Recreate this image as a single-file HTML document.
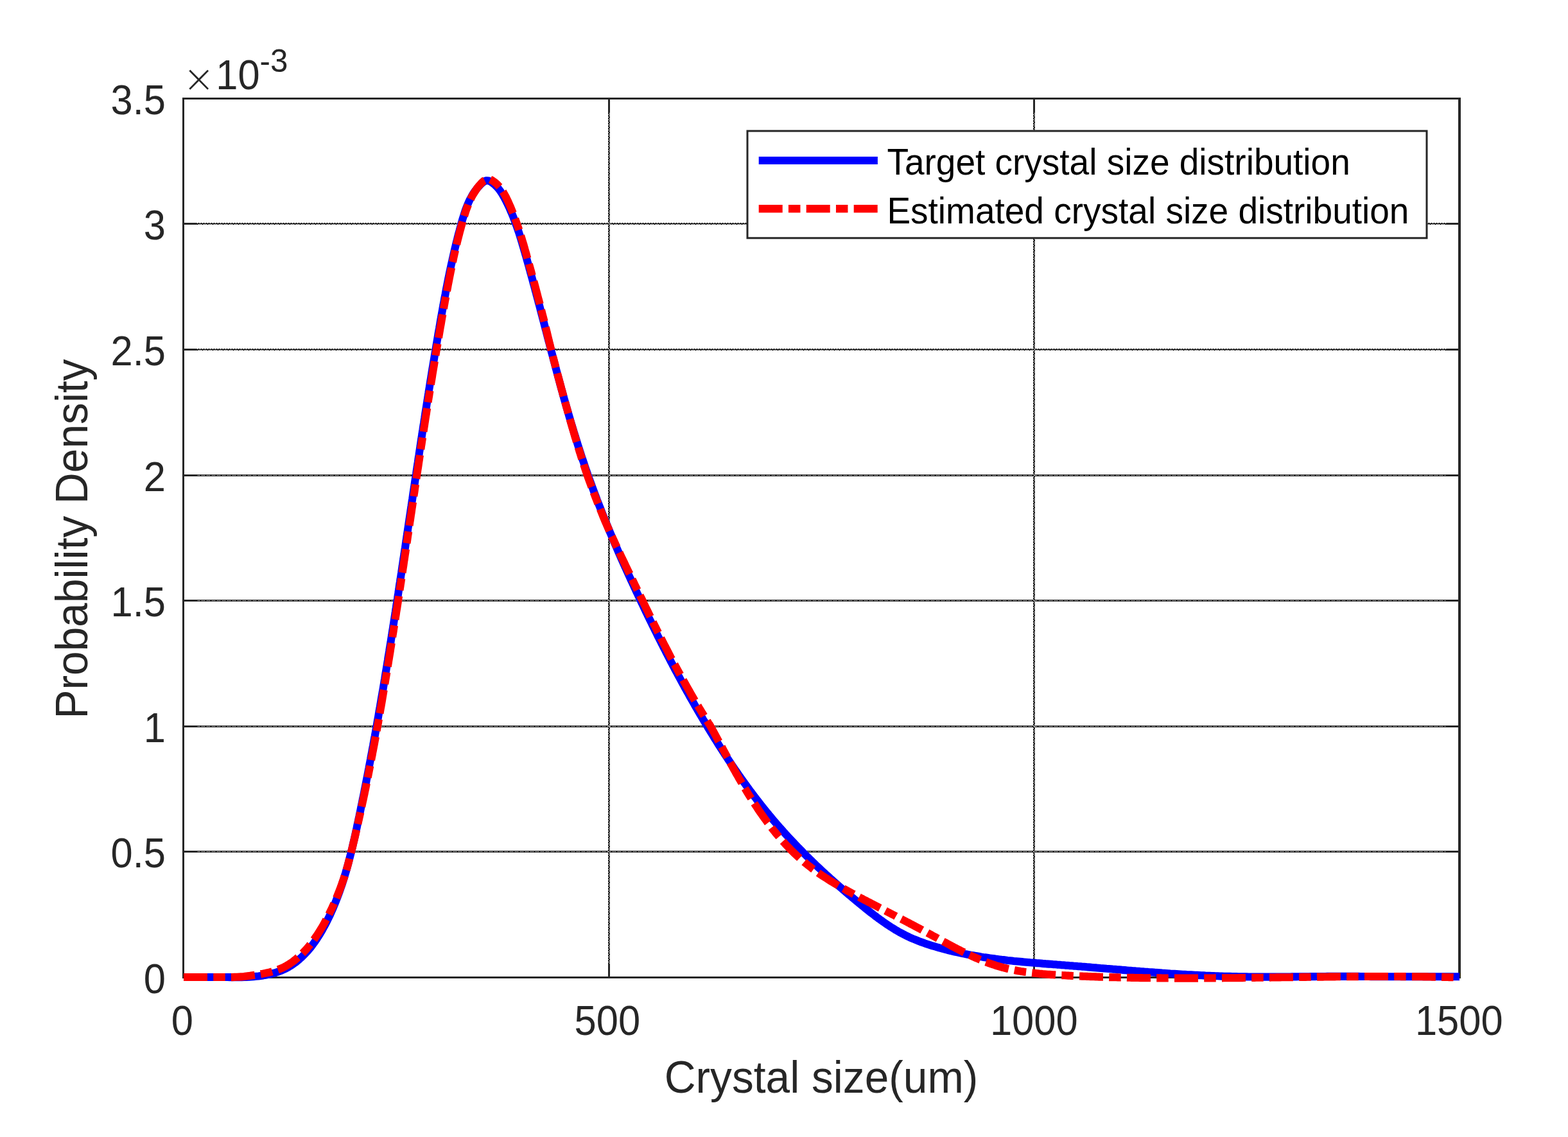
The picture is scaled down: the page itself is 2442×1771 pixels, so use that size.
<!DOCTYPE html>
<html><head><meta charset="utf-8"><title>Crystal size distribution</title>
<style>
html,body{margin:0;padding:0;background:#fff;}
svg{display:block}
text{font-family:"Liberation Sans",sans-serif;fill:#262626;}
.tk{font-size:62.5px}
.lb{font-size:68.75px}
.lg{font-size:56.25px;fill:#000}
</style></head><body>
<svg width="2442" height="1771" viewBox="0 0 2442 1771">
<rect x="0" y="0" width="2442" height="1771" fill="#fff"/>
<g stroke="#262626" stroke-width="3" fill="none">
<line x1="285.5" y1="1326.5" x2="2273.0" y2="1326.5"/>
<line x1="285.5" y1="1131.5" x2="2273.0" y2="1131.5"/>
<line x1="285.5" y1="935.5" x2="2273.0" y2="935.5"/>
<line x1="285.5" y1="740.5" x2="2273.0" y2="740.5"/>
<line x1="285.5" y1="544.5" x2="2273.0" y2="544.5"/>
<line x1="285.5" y1="348.5" x2="2273.0" y2="348.5"/>
<line x1="948.5" y1="153.5" x2="948.5" y2="1522.5"/>
<line x1="1610.5" y1="153.5" x2="1610.5" y2="1522.5"/>
</g>
<g stroke="#fff" stroke-width="1" fill="none">
<line x1="308" y1="1326.5" x2="2252" y2="1326.5" stroke-dasharray="1 1 1 3 1 1"/>
<line x1="308" y1="1131.5" x2="2252" y2="1131.5" stroke-dasharray="1 1 1 3 1 1"/>
<line x1="308" y1="935.5" x2="2252" y2="935.5" stroke-dasharray="1 1 1 3 1 1"/>
<line x1="308" y1="740.5" x2="2252" y2="740.5" stroke-dasharray="1 1 1 3 1 1"/>
<line x1="307" y1="543.5" x2="2252" y2="543.5" stroke-dasharray="1 3"/>
<line x1="309" y1="545.5" x2="2252" y2="545.5" stroke-dasharray="1 1 1 1 1 3"/>
<line x1="307" y1="347.5" x2="2252" y2="347.5" stroke-dasharray="1 3"/>
<line x1="309" y1="349.5" x2="2252" y2="349.5" stroke-dasharray="1 1 1 1 1 3"/>
<line x1="947.5" y1="178" x2="947.5" y2="1501" stroke-dasharray="1 3"/>
<line x1="949.5" y1="176" x2="949.5" y2="1501" stroke-dasharray="1 1 1 1 1 3"/>
<line x1="1609.5" y1="178" x2="1609.5" y2="1501" stroke-dasharray="1 3"/>
<line x1="1611.5" y1="176" x2="1611.5" y2="1501" stroke-dasharray="1 1 1 1 1 3"/>
</g>
<g stroke="#262626" fill="none" stroke-linecap="butt">
<path d="M2275.0,153.5 H285.5 V1522.5 H2275.0" stroke-width="3" stroke-linejoin="miter"/>
<line x1="2273.0" y1="152.0" x2="2273.0" y2="1524.0" stroke-width="4"/>
</g>
<path d="M286.0,1522.0 L289.4,1522.0 L292.9,1522.0 L296.4,1522.0 L299.9,1522.0 L303.4,1522.0 L307.0,1522.0 L310.5,1522.0 L314.1,1522.0 L317.6,1522.0 L321.2,1522.0 L324.8,1522.0 L328.4,1522.0 L332.1,1522.0 L335.7,1522.0 L339.4,1522.0 L343.0,1522.0 L346.7,1522.0 L350.4,1522.0 L354.1,1522.0 L357.8,1522.1 L361.5,1522.1 L365.2,1522.2 L368.9,1522.2 L372.7,1522.2 L376.4,1522.2 L380.2,1522.0 L383.9,1521.9 L387.7,1521.7 L391.4,1521.5 L395.2,1521.2 L398.9,1520.8 L402.6,1520.4 L406.3,1519.9 L410.0,1519.4 L413.6,1518.8 L417.2,1518.1 L420.8,1517.3 L424.3,1516.4 L427.8,1515.4 L431.2,1514.3 L434.5,1513.2 L437.8,1511.9 L441.0,1510.5 L444.2,1509.0 L447.3,1507.4 L450.3,1505.7 L453.3,1503.8 L456.2,1501.9 L459.0,1499.9 L461.8,1497.8 L464.5,1495.6 L467.1,1493.3 L469.7,1491.0 L472.2,1488.5 L474.7,1486.0 L477.1,1483.4 L479.5,1480.8 L481.8,1478.1 L484.1,1475.3 L486.3,1472.4 L488.4,1469.5 L490.5,1466.6 L492.6,1463.6 L494.6,1460.5 L496.6,1457.5 L498.5,1454.3 L500.4,1451.2 L502.2,1448.0 L504.0,1444.7 L505.8,1441.5 L507.5,1438.2 L509.2,1434.9 L510.8,1431.6 L512.4,1428.3 L514.0,1425.0 L515.5,1421.6 L517.0,1418.3 L518.5,1414.9 L519.9,1411.5 L521.3,1408.2 L522.7,1404.8 L524.0,1401.4 L525.3,1398.0 L526.6,1394.6 L527.9,1391.1 L529.1,1387.7 L530.3,1384.3 L531.5,1380.8 L532.7,1377.4 L533.8,1373.9 L534.9,1370.5 L536.0,1367.0 L537.0,1363.5 L538.1,1360.0 L539.1,1356.5 L540.1,1353.1 L541.1,1349.6 L542.1,1346.0 L543.0,1342.5 L543.9,1339.0 L544.8,1335.5 L545.7,1332.0 L546.6,1328.5 L547.5,1324.9 L548.4,1321.4 L549.2,1317.9 L550.0,1314.3 L550.8,1310.8 L551.7,1307.2 L552.5,1303.7 L553.3,1300.1 L554.0,1296.6 L554.8,1293.0 L555.6,1289.5 L556.3,1285.9 L557.1,1282.4 L557.9,1278.8 L558.6,1275.3 L559.4,1271.7 L560.1,1268.1 L560.9,1264.6 L561.6,1261.0 L562.3,1257.5 L563.1,1253.9 L563.8,1250.3 L564.5,1246.8 L565.2,1243.2 L566.0,1239.6 L566.7,1236.1 L567.4,1232.5 L568.1,1228.9 L568.8,1225.4 L569.5,1221.8 L570.2,1218.3 L570.9,1214.7 L571.6,1211.1 L572.3,1207.6 L573.0,1204.0 L573.7,1200.4 L574.4,1196.8 L575.0,1193.3 L575.7,1189.7 L576.4,1186.1 L577.1,1182.6 L577.7,1179.0 L578.4,1175.4 L579.1,1171.9 L579.7,1168.3 L580.4,1164.7 L581.1,1161.1 L581.7,1157.6 L582.4,1154.0 L583.0,1150.4 L583.7,1146.8 L584.3,1143.3 L585.0,1139.7 L585.6,1136.1 L586.2,1132.5 L586.9,1129.0 L587.5,1125.4 L588.1,1121.8 L588.8,1118.2 L589.4,1114.7 L590.0,1111.1 L590.6,1107.5 L591.3,1103.9 L591.9,1100.4 L592.5,1096.8 L593.1,1093.2 L593.7,1089.6 L594.3,1086.0 L594.9,1082.5 L595.6,1078.9 L596.2,1075.3 L596.8,1071.7 L597.4,1068.1 L598.0,1064.6 L598.6,1061.0 L599.2,1057.4 L599.7,1053.8 L600.3,1050.2 L600.9,1046.6 L601.5,1043.1 L602.1,1039.5 L602.7,1035.9 L603.3,1032.3 L603.9,1028.7 L604.4,1025.1 L605.0,1021.6 L605.6,1018.0 L606.2,1014.4 L606.7,1010.8 L607.3,1007.2 L607.9,1003.6 L608.5,1000.0 L609.0,996.5 L609.6,992.9 L610.2,989.3 L610.7,985.7 L611.3,982.1 L611.9,978.5 L612.4,974.9 L613.0,971.3 L613.5,967.8 L614.1,964.2 L614.7,960.6 L615.2,957.0 L615.8,953.4 L616.3,949.8 L616.9,946.2 L617.4,942.6 L618.0,939.0 L618.5,935.5 L619.1,931.9 L619.6,928.3 L620.2,924.7 L620.7,921.1 L621.3,917.5 L621.8,913.9 L622.3,910.3 L622.9,906.7 L623.4,903.1 L624.0,899.6 L624.5,896.0 L625.1,892.4 L625.6,888.8 L626.1,885.2 L626.7,881.6 L627.2,878.0 L627.7,874.4 L628.3,870.8 L628.8,867.2 L629.4,863.6 L629.9,860.0 L630.4,856.5 L631.0,852.9 L631.5,849.3 L632.0,845.7 L632.6,842.1 L633.1,838.5 L633.6,834.9 L634.2,831.3 L634.7,827.7 L635.2,824.1 L635.8,820.5 L636.3,816.9 L636.8,813.3 L637.4,809.8 L637.9,806.2 L638.4,802.6 L639.0,799.0 L639.5,795.4 L640.0,791.8 L640.6,788.2 L641.1,784.6 L641.6,781.0 L642.2,777.4 L642.7,773.8 L643.2,770.2 L643.8,766.6 L644.3,763.0 L644.8,759.5 L645.4,755.9 L645.9,752.3 L646.4,748.7 L647.0,745.1 L647.5,741.5 L648.1,737.9 L648.6,734.3 L649.1,730.7 L649.7,727.1 L650.2,723.5 L650.8,719.9 L651.3,716.3 L651.8,712.8 L652.4,709.2 L652.9,705.6 L653.5,702.0 L654.0,698.4 L654.6,694.8 L655.1,691.2 L655.6,687.6 L656.2,684.0 L656.7,680.4 L657.3,676.8 L657.8,673.2 L658.4,669.7 L658.9,666.1 L659.5,662.5 L660.1,658.9 L660.6,655.3 L661.2,651.7 L661.7,648.1 L662.3,644.5 L662.8,640.9 L663.4,637.3 L664.0,633.8 L664.5,630.2 L665.1,626.6 L665.7,623.0 L666.2,619.4 L666.8,615.8 L667.4,612.2 L667.9,608.6 L668.5,605.0 L669.1,601.5 L669.6,597.9 L670.2,594.3 L670.8,590.7 L671.4,587.1 L672.0,583.5 L672.5,579.9 L673.1,576.3 L673.7,572.8 L674.3,569.2 L674.9,565.6 L675.5,562.0 L676.1,558.4 L676.7,554.8 L677.3,551.2 L677.9,547.7 L678.5,544.1 L679.1,540.5 L679.7,536.9 L680.3,533.3 L680.9,529.7 L681.5,526.2 L682.1,522.6 L682.7,519.0 L683.3,515.4 L684.0,511.8 L684.6,508.2 L685.2,504.7 L685.8,501.1 L686.4,497.5 L687.1,493.9 L687.7,490.3 L688.3,486.8 L689.0,483.2 L689.6,479.6 L690.3,476.0 L690.9,472.4 L691.6,468.9 L692.2,465.3 L692.9,461.7 L693.6,458.1 L694.2,454.6 L694.9,451.0 L695.6,447.4 L696.3,443.9 L697.0,440.3 L697.7,436.7 L698.4,433.2 L699.2,429.6 L699.9,426.0 L700.6,422.5 L701.4,418.9 L702.1,415.4 L702.9,411.8 L703.7,408.3 L704.5,404.7 L705.3,401.2 L706.1,397.6 L706.9,394.1 L707.7,390.5 L708.5,387.0 L709.4,383.5 L710.2,379.9 L711.1,376.4 L712.0,372.9 L712.9,369.3 L713.8,365.8 L714.7,362.3 L715.7,358.8 L716.6,355.3 L717.6,351.8 L718.5,348.2 L719.5,344.7 L720.5,341.2 L721.6,337.8 L722.7,334.3 L723.8,330.8 L724.9,327.4 L726.2,324.0 L727.5,320.7 L728.8,317.4 L730.3,314.1 L731.8,310.9 L733.5,307.8 L735.2,304.7 L737.0,301.7 L739.0,298.7 L741.1,295.9 L743.3,293.1 L745.7,290.4 L748.2,287.7 L750.8,285.2 L753.6,282.8 L757.5,281.2 L761.2,281.5 L764.0,283.0 L766.7,284.7 L769.2,286.6 L771.5,288.7 L773.7,290.9 L775.8,293.2 L777.7,295.7 L779.6,298.2 L781.3,300.9 L783.0,303.6 L784.5,306.3 L786.1,309.1 L787.6,312.0 L789.0,314.8 L790.4,317.7 L791.8,320.5 L793.1,323.4 L794.4,326.3 L795.7,329.3 L797.0,332.2 L798.2,335.1 L799.4,338.1 L800.5,341.1 L801.7,344.1 L802.8,347.1 L803.9,350.1 L805.0,353.1 L806.0,356.1 L807.0,359.2 L808.1,362.2 L809.1,365.3 L810.0,368.4 L811.0,371.4 L811.9,374.5 L812.9,377.6 L813.8,380.7 L814.7,383.8 L815.6,386.9 L816.5,390.0 L817.4,393.1 L818.3,396.2 L819.2,399.3 L820.1,402.4 L820.9,405.5 L821.8,408.6 L822.7,411.7 L823.6,414.8 L824.4,418.0 L825.3,421.1 L826.1,424.2 L827.0,427.3 L827.8,430.4 L828.7,433.5 L829.5,436.6 L830.4,439.8 L831.2,442.9 L832.1,446.0 L832.9,449.1 L833.7,452.2 L834.6,455.3 L835.4,458.5 L836.2,461.6 L837.1,464.7 L837.9,467.8 L838.7,470.9 L839.5,474.0 L840.4,477.2 L841.2,480.3 L842.0,483.4 L842.8,486.5 L843.6,489.6 L844.5,492.8 L845.3,495.9 L846.1,499.0 L846.9,502.1 L847.7,505.2 L848.5,508.4 L849.3,511.5 L850.2,514.6 L851.0,517.7 L851.8,520.8 L852.6,524.0 L853.4,527.1 L854.2,530.2 L855.1,533.3 L855.9,536.4 L856.7,539.6 L857.5,542.7 L858.3,545.8 L859.1,548.9 L860.0,552.0 L860.8,555.1 L861.6,558.2 L862.4,561.4 L863.3,564.5 L864.1,567.6 L864.9,570.7 L865.7,573.8 L866.6,576.9 L867.4,580.0 L868.2,583.1 L869.1,586.2 L869.9,589.4 L870.8,592.5 L871.6,595.6 L872.4,598.7 L873.3,601.8 L874.1,604.9 L875.0,608.0 L875.9,611.1 L876.7,614.2 L877.6,617.3 L878.4,620.4 L879.3,623.5 L880.2,626.6 L881.1,629.7 L881.9,632.8 L882.8,635.8 L883.7,638.9 L884.6,642.0 L885.5,645.1 L886.4,648.2 L887.3,651.3 L888.2,654.4 L889.1,657.4 L890.0,660.5 L891.0,663.6 L891.9,666.7 L892.8,669.7 L893.7,672.8 L894.7,675.9 L895.6,679.0 L896.6,682.0 L897.5,685.1 L898.5,688.2 L899.4,691.2 L900.4,694.3 L901.4,697.3 L902.4,700.4 L903.3,703.5 L904.3,706.5 L905.3,709.6 L906.3,712.6 L907.3,715.7 L908.4,718.7 L909.4,721.7 L910.4,724.8 L911.4,727.8 L912.5,730.9 L913.5,733.9 L914.6,736.9 L915.6,740.0 L916.7,743.0 L917.8,746.0 L918.9,749.0 L920.0,752.1 L921.1,755.1 L922.2,758.1 L923.3,761.1 L924.4,764.1 L925.5,767.1 L926.6,770.1 L927.8,773.1 L928.9,776.1 L930.0,779.2 L931.2,782.1 L932.3,785.1 L933.5,788.1 L934.7,791.1 L935.9,794.1 L937.0,797.1 L938.2,800.1 L939.4,803.1 L940.6,806.1 L941.8,809.1 L943.0,812.0 L944.2,815.0 L945.5,818.0 L946.7,821.0 L947.9,823.9 L949.1,826.9 L950.4,829.9 L951.6,832.8 L952.9,835.8 L954.1,838.8 L955.4,841.7 L956.7,844.7 L957.9,847.6 L959.2,850.6 L960.5,853.5 L961.8,856.5 L963.0,859.4 L964.3,862.4 L965.6,865.3 L966.9,868.3 L968.2,871.2 L969.5,874.2 L970.8,877.1 L972.2,880.0 L973.5,883.0 L974.8,885.9 L976.1,888.8 L977.5,891.8 L978.8,894.7 L980.1,897.6 L981.5,900.6 L982.8,903.5 L984.2,906.4 L985.5,909.3 L986.9,912.3 L988.2,915.2 L989.6,918.1 L990.9,921.0 L992.3,923.9 L993.7,926.8 L995.1,929.8 L996.4,932.7 L997.8,935.6 L999.2,938.5 L1000.6,941.4 L1002.0,944.3 L1003.3,947.2 L1004.7,950.1 L1006.1,953.0 L1007.5,955.9 L1008.9,958.8 L1010.3,961.7 L1011.7,964.6 L1013.2,967.5 L1014.6,970.4 L1016.0,973.3 L1017.4,976.2 L1018.8,979.0 L1020.2,981.9 L1021.7,984.8 L1023.1,987.7 L1024.5,990.6 L1026.0,993.5 L1027.4,996.3 L1028.9,999.2 L1030.3,1002.1 L1031.8,1004.9 L1033.2,1007.8 L1034.7,1010.7 L1036.2,1013.5 L1037.6,1016.4 L1039.1,1019.3 L1040.6,1022.1 L1042.1,1025.0 L1043.5,1027.8 L1045.0,1030.7 L1046.5,1033.5 L1048.0,1036.4 L1049.5,1039.2 L1051.0,1042.1 L1052.5,1044.9 L1054.1,1047.7 L1055.6,1050.6 L1057.1,1053.4 L1058.6,1056.2 L1060.2,1059.1 L1061.7,1061.9 L1063.2,1064.7 L1064.8,1067.5 L1066.3,1070.4 L1067.9,1073.2 L1069.4,1076.0 L1071.0,1078.8 L1072.6,1081.6 L1074.1,1084.4 L1075.7,1087.2 L1077.3,1090.0 L1078.9,1092.8 L1080.5,1095.6 L1082.1,1098.4 L1083.7,1101.2 L1085.3,1103.9 L1086.9,1106.7 L1088.5,1109.5 L1090.1,1112.3 L1091.8,1115.0 L1093.4,1117.8 L1095.0,1120.6 L1096.7,1123.3 L1098.3,1126.1 L1100.0,1128.9 L1101.7,1131.6 L1103.3,1134.4 L1105.0,1137.1 L1106.7,1139.9 L1108.4,1142.6 L1110.1,1145.3 L1111.7,1148.1 L1113.4,1150.8 L1115.2,1153.5 L1116.9,1156.2 L1118.6,1159.0 L1120.3,1161.7 L1122.0,1164.4 L1123.8,1167.1 L1125.5,1169.8 L1127.3,1172.5 L1129.0,1175.2 L1130.8,1177.9 L1132.6,1180.6 L1134.3,1183.3 L1136.1,1185.9 L1137.9,1188.6 L1139.7,1191.3 L1141.5,1193.9 L1143.3,1196.6 L1145.1,1199.3 L1147.0,1201.9 L1148.8,1204.6 L1150.6,1207.2 L1152.5,1209.8 L1154.3,1212.5 L1156.2,1215.1 L1158.1,1217.7 L1159.9,1220.3 L1161.8,1222.9 L1163.7,1225.5 L1165.6,1228.1 L1167.5,1230.7 L1169.4,1233.3 L1171.4,1235.9 L1173.3,1238.4 L1175.2,1241.0 L1177.2,1243.5 L1179.1,1246.1 L1181.1,1248.6 L1183.1,1251.2 L1185.1,1253.7 L1187.1,1256.2 L1189.1,1258.7 L1191.1,1261.2 L1193.1,1263.7 L1195.1,1266.2 L1197.2,1268.7 L1199.2,1271.2 L1201.3,1273.7 L1203.3,1276.1 L1205.4,1278.6 L1207.5,1281.0 L1209.6,1283.4 L1211.7,1285.9 L1213.8,1288.3 L1216.0,1290.7 L1218.1,1293.1 L1220.2,1295.5 L1222.4,1297.9 L1224.5,1300.3 L1226.7,1302.6 L1228.9,1305.0 L1231.1,1307.4 L1233.3,1309.7 L1235.5,1312.0 L1237.7,1314.4 L1239.9,1316.7 L1242.1,1319.0 L1244.4,1321.3 L1246.6,1323.6 L1248.9,1325.9 L1251.1,1328.2 L1253.4,1330.5 L1255.7,1332.8 L1258.0,1335.0 L1260.3,1337.3 L1262.6,1339.5 L1264.9,1341.8 L1267.2,1344.0 L1269.5,1346.3 L1271.8,1348.5 L1274.2,1350.7 L1276.5,1352.9 L1278.9,1355.1 L1281.2,1357.3 L1283.6,1359.5 L1285.9,1361.7 L1288.3,1363.8 L1290.7,1366.0 L1293.1,1368.2 L1295.5,1370.3 L1297.9,1372.5 L1300.3,1374.6 L1302.7,1376.8 L1305.1,1378.9 L1307.5,1381.0 L1310.0,1383.1 L1312.4,1385.2 L1314.9,1387.3 L1317.3,1389.4 L1319.8,1391.5 L1322.2,1393.6 L1324.7,1395.7 L1327.1,1397.8 L1329.6,1399.8 L1332.1,1401.9 L1334.6,1404.0 L1337.1,1406.0 L1339.6,1408.1 L1342.0,1410.1 L1344.5,1412.1 L1347.1,1414.2 L1349.6,1416.2 L1352.1,1418.2 L1354.6,1420.2 L1357.1,1422.2 L1359.7,1424.1 L1362.2,1426.1 L1364.8,1428.0 L1367.4,1430.0 L1370.0,1431.9 L1372.6,1433.7 L1375.2,1435.6 L1377.8,1437.4 L1380.4,1439.2 L1383.1,1441.0 L1385.8,1442.8 L1388.5,1444.5 L1391.2,1446.2 L1393.9,1447.9 L1396.7,1449.5 L1399.4,1451.1 L1402.2,1452.7 L1405.0,1454.2 L1407.9,1455.7 L1410.7,1457.1 L1413.6,1458.5 L1416.5,1459.9 L1419.4,1461.2 L1422.4,1462.5 L1425.4,1463.7 L1428.4,1464.9 L1431.4,1466.1 L1434.4,1467.2 L1437.5,1468.3 L1440.5,1469.4 L1443.6,1470.4 L1446.7,1471.4 L1449.7,1472.4 L1452.8,1473.4 L1455.9,1474.3 L1459.0,1475.2 L1462.1,1476.1 L1465.2,1477.0 L1468.3,1477.8 L1471.4,1478.7 L1474.5,1479.5 L1477.6,1480.3 L1480.8,1481.0 L1483.9,1481.8 L1487.0,1482.5 L1490.1,1483.2 L1493.3,1483.9 L1496.4,1484.6 L1499.6,1485.2 L1502.7,1485.9 L1505.9,1486.5 L1509.0,1487.1 L1512.2,1487.7 L1515.3,1488.2 L1518.5,1488.8 L1521.6,1489.3 L1524.8,1489.8 L1528.0,1490.4 L1531.1,1490.9 L1534.3,1491.3 L1537.5,1491.8 L1540.7,1492.3 L1543.8,1492.7 L1547.0,1493.1 L1550.2,1493.6 L1553.4,1494.0 L1556.6,1494.4 L1559.8,1494.8 L1563.0,1495.1 L1566.2,1495.5 L1569.3,1495.9 L1572.5,1496.2 L1575.7,1496.5 L1578.9,1496.9 L1582.1,1497.2 L1585.3,1497.5 L1588.5,1497.8 L1591.8,1498.1 L1595.0,1498.4 L1598.2,1498.7 L1601.4,1499.0 L1604.6,1499.3 L1607.8,1499.5 L1611.0,1499.8 L1614.2,1500.1 L1617.4,1500.3 L1620.6,1500.6 L1623.9,1500.9 L1627.1,1501.1 L1630.3,1501.4 L1633.5,1501.6 L1636.7,1501.8 L1639.9,1502.1 L1643.1,1502.3 L1646.3,1502.6 L1649.6,1502.8 L1652.8,1503.1 L1656.0,1503.3 L1659.2,1503.6 L1662.4,1503.8 L1665.6,1504.1 L1668.8,1504.3 L1672.0,1504.6 L1675.3,1504.8 L1678.5,1505.1 L1681.7,1505.3 L1684.9,1505.6 L1688.1,1505.8 L1691.3,1506.1 L1694.5,1506.4 L1697.7,1506.6 L1700.9,1506.9 L1704.1,1507.2 L1707.4,1507.4 L1710.6,1507.7 L1713.8,1508.0 L1717.0,1508.2 L1720.2,1508.5 L1723.4,1508.8 L1726.6,1509.0 L1729.8,1509.3 L1733.0,1509.6 L1736.2,1509.8 L1739.4,1510.1 L1742.6,1510.3 L1745.8,1510.6 L1749.0,1510.9 L1752.2,1511.1 L1755.4,1511.4 L1758.6,1511.7 L1761.9,1511.9 L1765.1,1512.2 L1768.3,1512.4 L1771.5,1512.7 L1774.7,1512.9 L1777.9,1513.2 L1781.1,1513.4 L1784.3,1513.7 L1787.5,1513.9 L1790.7,1514.2 L1793.9,1514.4 L1797.1,1514.6 L1800.3,1514.9 L1803.5,1515.1 L1806.7,1515.3 L1809.9,1515.6 L1813.1,1515.8 L1816.3,1516.0 L1819.5,1516.2 L1822.7,1516.5 L1825.9,1516.7 L1829.2,1516.9 L1832.4,1517.1 L1835.6,1517.3 L1838.8,1517.5 L1842.0,1517.7 L1845.2,1517.9 L1848.4,1518.1 L1851.6,1518.2 L1854.8,1518.4 L1858.0,1518.6 L1861.2,1518.8 L1864.4,1518.9 L1867.6,1519.1 L1870.9,1519.3 L1874.1,1519.4 L1877.3,1519.6 L1880.5,1519.7 L1883.7,1519.8 L1886.9,1520.0 L1890.1,1520.1 L1893.3,1520.2 L1896.5,1520.3 L1899.7,1520.5 L1903.0,1520.6 L1906.2,1520.7 L1909.4,1520.8 L1912.6,1520.8 L1915.8,1520.9 L1919.0,1521.0 L1922.2,1521.1 L1925.5,1521.1 L1928.7,1521.2 L1931.9,1521.3 L1935.1,1521.3 L1938.3,1521.4 L1941.5,1521.4 L1944.8,1521.5 L1948.0,1521.5 L1951.2,1521.5 L1954.4,1521.5 L1957.6,1521.6 L1960.9,1521.6 L1964.1,1521.6 L1967.3,1521.6 L1970.5,1521.6 L1973.7,1521.6 L1977.0,1521.6 L1980.2,1521.6 L1983.4,1521.6 L1986.6,1521.6 L1989.8,1521.6 L1993.1,1521.6 L1996.3,1521.6 L1999.5,1521.5 L2002.7,1521.5 L2006.0,1521.5 L2009.2,1521.5 L2012.4,1521.4 L2015.6,1521.4 L2018.9,1521.4 L2022.1,1521.3 L2025.3,1521.3 L2028.5,1521.3 L2031.7,1521.2 L2035.0,1521.2 L2038.2,1521.2 L2041.4,1521.1 L2044.6,1521.1 L2047.9,1521.1 L2051.1,1521.0 L2054.3,1521.0 L2057.5,1521.0 L2060.8,1521.0 L2064.0,1521.0 L2067.2,1520.9 L2070.4,1520.9 L2073.6,1520.9 L2076.9,1520.9 L2080.1,1520.9 L2083.3,1520.9 L2086.5,1520.9 L2089.8,1520.9 L2093.0,1520.9 L2096.2,1520.9 L2099.4,1520.9 L2102.7,1520.9 L2105.9,1520.9 L2109.1,1520.9 L2112.3,1520.9 L2115.5,1520.9 L2118.8,1521.0 L2122.0,1521.0 L2125.2,1521.0 L2128.4,1521.0 L2131.7,1521.0 L2134.9,1521.1 L2138.1,1521.1 L2141.3,1521.1 L2144.5,1521.1 L2147.8,1521.2 L2151.0,1521.2 L2154.2,1521.2 L2157.4,1521.2 L2160.6,1521.2 L2163.8,1521.2 L2167.1,1521.2 L2170.3,1521.2 L2173.5,1521.2 L2176.7,1521.2 L2179.9,1521.2 L2183.1,1521.2 L2186.4,1521.2 L2189.6,1521.2 L2192.8,1521.2 L2196.0,1521.2 L2199.2,1521.2 L2202.4,1521.2 L2205.6,1521.2 L2208.9,1521.2 L2212.1,1521.2 L2215.3,1521.2 L2218.5,1521.2 L2221.7,1521.2 L2224.9,1521.2 L2228.1,1521.2 L2231.3,1521.2 L2234.5,1521.2 L2237.7,1521.2 L2241.0,1521.2 L2244.2,1521.2 L2247.4,1521.2 L2250.6,1521.2 L2253.8,1521.2 L2257.0,1521.2 L2260.2,1521.2 L2263.4,1521.2 L2266.6,1521.2 L2269.8,1521.2 L2273.0,1521.2" fill="none" stroke="#0000ff" stroke-width="12.1" stroke-linejoin="round"/>
<path d="M286.0,1522.0 L289.4,1522.0 L292.9,1522.0 L296.4,1522.0 L299.9,1522.0 L303.4,1522.0 L307.0,1522.0 L310.5,1522.0 L314.1,1522.0 L317.6,1522.0 L321.2,1522.0 L324.8,1522.0 L328.4,1522.0 L332.1,1522.0 L335.7,1522.0 L339.4,1522.0 L343.0,1522.0 L346.7,1522.0 L350.4,1522.0 L354.1,1522.0 L357.8,1522.1 L361.5,1522.1 L365.2,1521.9 L368.9,1521.8 L372.7,1521.6 L376.4,1521.4 L380.1,1521.0 L383.9,1520.5 L387.6,1520.1 L391.3,1519.5 L395.0,1519.0 L398.7,1518.5 L402.3,1517.8 L405.9,1517.2 L409.5,1516.6 L413.1,1515.9 L416.6,1515.1 L420.1,1514.3 L423.5,1513.4 L426.9,1512.4 L430.2,1511.3 L433.4,1510.2 L436.6,1508.9 L439.7,1507.6 L442.7,1506.1 L445.7,1504.5 L448.6,1502.8 L451.5,1501.0 L454.2,1499.1 L457.0,1497.1 L459.6,1495.1 L462.2,1492.9 L464.8,1490.7 L467.3,1488.4 L469.8,1486.1 L472.3,1483.7 L474.6,1481.2 L477.0,1478.6 L479.3,1475.9 L481.5,1473.2 L483.7,1470.5 L485.8,1467.6 L488.0,1464.8 L490.1,1461.9 L492.1,1458.9 L494.2,1455.9 L496.1,1452.9 L498.1,1449.8 L500.0,1446.7 L501.9,1443.6 L503.7,1440.4 L505.5,1437.2 L507.2,1434.0 L508.9,1430.7 L510.6,1427.5 L512.3,1424.2 L513.9,1420.9 L515.5,1417.6 L517.1,1414.3 L518.6,1411.0 L520.1,1407.7 L521.6,1404.4 L523.1,1401.0 L524.5,1397.6 L525.8,1394.3 L527.2,1390.9 L528.5,1387.5 L529.8,1384.1 L531.1,1380.7 L532.3,1377.3 L533.5,1373.8 L534.7,1370.4 L535.9,1367.0 L537.0,1363.5 L538.1,1360.0 L539.1,1356.5 L540.1,1353.1 L541.1,1349.6 L542.1,1346.0 L543.0,1342.5 L543.9,1339.0 L544.8,1335.5 L545.7,1332.0 L546.6,1328.5 L547.5,1324.9 L548.4,1321.4 L549.3,1317.9 L550.1,1314.4 L551.0,1310.8 L551.8,1307.3 L552.7,1303.7 L553.5,1300.2 L554.3,1296.7 L555.1,1293.1 L556.0,1289.6 L556.8,1286.0 L557.5,1282.5 L558.3,1278.9 L559.1,1275.4 L559.9,1271.8 L560.7,1268.3 L561.5,1264.7 L562.2,1261.1 L563.0,1257.6 L563.8,1254.0 L564.5,1250.5 L565.3,1246.9 L566.1,1243.4 L566.8,1239.8 L567.6,1236.3 L568.3,1232.7 L569.1,1229.1 L569.8,1225.6 L570.5,1222.0 L571.2,1218.5 L572.0,1214.9 L572.7,1211.3 L573.4,1207.8 L574.1,1204.2 L574.8,1200.6 L575.5,1197.1 L576.2,1193.5 L576.9,1189.9 L577.6,1186.4 L578.3,1182.8 L579.0,1179.2 L579.7,1175.7 L580.3,1172.1 L581.0,1168.5 L581.7,1165.0 L582.4,1161.4 L583.1,1157.8 L583.7,1154.2 L584.4,1150.7 L585.1,1147.1 L585.7,1143.5 L586.4,1140.0 L587.0,1136.4 L587.7,1132.8 L588.3,1129.2 L589.0,1125.7 L589.6,1122.1 L590.2,1118.5 L590.9,1114.9 L591.5,1111.3 L592.1,1107.8 L592.7,1104.2 L593.4,1100.6 L594.0,1097.0 L594.6,1093.4 L595.2,1089.9 L595.8,1086.3 L596.4,1082.7 L597.0,1079.1 L597.6,1075.5 L598.2,1072.0 L598.8,1068.4 L599.4,1064.8 L600.0,1061.2 L600.6,1057.6 L601.2,1054.0 L601.8,1050.5 L602.4,1046.9 L603.0,1043.3 L603.6,1039.7 L604.2,1036.1 L604.8,1032.5 L605.3,1029.0 L605.9,1025.4 L606.5,1021.8 L607.1,1018.2 L607.7,1014.6 L608.2,1011.0 L608.8,1007.4 L609.4,1003.9 L609.9,1000.3 L610.5,996.7 L611.1,993.1 L611.6,989.5 L612.2,985.9 L612.8,982.3 L613.3,978.7 L613.9,975.2 L614.5,971.6 L615.0,968.0 L615.6,964.4 L616.1,960.8 L616.7,957.2 L617.2,953.6 L617.8,950.0 L618.4,946.4 L618.9,942.9 L619.5,939.3 L620.0,935.7 L620.6,932.1 L621.1,928.5 L621.6,924.9 L622.2,921.3 L622.7,917.7 L623.3,914.1 L623.8,910.5 L624.4,907.0 L624.9,903.4 L625.5,899.8 L626.0,896.2 L626.5,892.6 L627.1,889.0 L627.6,885.4 L628.2,881.8 L628.7,878.2 L629.2,874.6 L629.8,871.0 L630.3,867.5 L630.8,863.9 L631.4,860.3 L631.9,856.7 L632.4,853.1 L633.0,849.5 L633.5,845.9 L634.1,842.3 L634.6,838.7 L635.1,835.1 L635.7,831.5 L636.2,827.9 L636.7,824.3 L637.3,820.8 L637.8,817.2 L638.3,813.6 L638.9,810.0 L639.4,806.4 L639.9,802.8 L640.5,799.2 L641.0,795.6 L641.5,792.0 L642.1,788.4 L642.6,784.8 L643.1,781.2 L643.7,777.6 L644.2,774.0 L644.7,770.5 L645.3,766.9 L645.8,763.3 L646.3,759.7 L646.9,756.1 L647.4,752.5 L647.9,748.9 L648.5,745.3 L649.0,741.7 L649.5,738.1 L650.1,734.5 L650.6,730.9 L651.2,727.3 L651.7,723.8 L652.2,720.2 L652.8,716.6 L653.3,713.0 L653.9,709.4 L654.4,705.8 L654.9,702.2 L655.5,698.6 L656.0,695.0 L656.6,691.4 L657.1,687.8 L657.7,684.2 L658.2,680.7 L658.8,677.1 L659.3,673.5 L659.9,669.9 L660.4,666.3 L661.0,662.7 L661.5,659.1 L662.1,655.5 L662.6,651.9 L663.2,648.3 L663.8,644.8 L664.3,641.2 L664.9,637.6 L665.4,634.0 L666.0,630.4 L666.6,626.8 L667.1,623.2 L667.7,619.6 L668.3,616.0 L668.8,612.5 L669.4,608.9 L670.0,605.3 L670.6,601.7 L671.1,598.1 L671.7,594.5 L672.3,590.9 L672.9,587.3 L673.4,583.8 L674.0,580.2 L674.6,576.6 L675.2,573.0 L675.8,569.4 L676.4,565.8 L677.0,562.2 L677.6,558.7 L678.2,555.1 L678.7,551.5 L679.3,547.9 L679.9,544.3 L680.5,540.7 L681.2,537.2 L681.8,533.6 L682.4,530.0 L683.0,526.4 L683.6,522.8 L684.2,519.2 L684.8,515.7 L685.4,512.1 L686.0,508.5 L686.7,504.9 L687.3,501.3 L687.9,497.8 L688.5,494.2 L689.2,490.6 L689.8,487.0 L690.5,483.4 L691.1,479.9 L691.7,476.3 L692.4,472.7 L693.0,469.1 L693.7,465.6 L694.4,462.0 L695.0,458.4 L695.7,454.9 L696.4,451.3 L697.1,447.7 L697.7,444.1 L698.4,440.6 L699.1,437.0 L699.8,433.4 L700.5,429.9 L701.2,426.3 L701.9,422.8 L702.7,419.2 L703.4,415.6 L704.1,412.1 L704.9,408.5 L705.7,405.0 L706.4,401.4 L707.2,397.9 L708.0,394.3 L708.8,390.8 L709.6,387.3 L710.5,383.7 L711.3,380.2 L712.1,376.7 L713.0,373.1 L713.9,369.6 L714.8,366.1 L715.7,362.6 L716.6,359.0 L717.6,355.5 L718.5,352.0 L719.5,348.5 L720.5,345.0 L721.5,341.5 L722.5,338.1 L723.6,334.6 L724.7,331.2 L725.8,327.7 L727.0,324.4 L728.3,321.0 L729.6,317.7 L731.0,314.5 L732.5,311.3 L734.0,308.1 L735.6,305.0 L737.4,301.9 L739.3,298.9 L741.2,295.9 L743.2,293.0 L745.4,290.1 L747.8,287.4 L750.3,284.7 L753.1,282.0 L757.0,280.1 L761.9,278.8 L765.5,280.5 L768.4,282.3 L771.1,284.3 L773.6,286.5 L775.9,288.9 L778.1,291.3 L780.1,293.9 L782.0,296.6 L783.7,299.3 L785.3,302.2 L786.9,305.0 L788.4,307.9 L789.8,310.8 L791.2,313.7 L792.5,316.6 L793.8,319.6 L795.1,322.5 L796.3,325.5 L797.5,328.5 L798.7,331.5 L799.9,334.4 L801.0,337.5 L802.2,340.5 L803.2,343.5 L804.3,346.5 L805.4,349.6 L806.4,352.6 L807.5,355.6 L808.5,358.7 L809.5,361.8 L810.5,364.8 L811.4,367.9 L812.4,371.0 L813.3,374.1 L814.2,377.2 L815.2,380.3 L816.1,383.4 L816.9,386.5 L817.8,389.6 L818.7,392.7 L819.6,395.8 L820.4,398.9 L821.3,402.1 L822.2,405.2 L823.1,408.3 L823.9,411.4 L824.8,414.5 L825.7,417.6 L826.5,420.7 L827.4,423.8 L828.2,426.9 L829.1,430.1 L829.9,433.2 L830.8,436.3 L831.6,439.4 L832.5,442.5 L833.3,445.6 L834.2,448.8 L835.0,451.9 L835.8,455.0 L836.6,458.1 L837.4,461.3 L838.2,464.4 L839.1,467.5 L839.9,470.6 L840.7,473.7 L841.5,476.9 L842.3,480.0 L843.1,483.1 L843.9,486.2 L844.7,489.4 L845.5,492.5 L846.3,495.6 L847.1,498.7 L847.9,501.9 L848.7,505.0 L849.4,508.1 L850.2,511.3 L851.0,514.4 L851.7,517.5 L852.5,520.7 L853.2,523.8 L854.0,526.9 L854.8,530.1 L855.5,533.2 L856.3,536.3 L857.1,539.5 L857.8,542.6 L858.6,545.7 L859.4,548.8 L860.2,551.9 L861.0,555.1 L861.8,558.2 L862.7,561.3 L863.5,564.4 L864.3,567.5 L865.1,570.6 L865.9,573.8 L866.8,576.9 L867.6,580.0 L868.4,583.1 L869.2,586.2 L870.1,589.3 L870.9,592.4 L871.7,595.5 L872.6,598.6 L873.4,601.7 L874.2,604.9 L875.1,608.0 L875.9,611.1 L876.8,614.2 L877.6,617.3 L878.5,620.4 L879.3,623.5 L880.2,626.6 L881.1,629.7 L881.9,632.8 L882.8,635.8 L883.7,638.9 L884.5,642.0 L885.4,645.1 L886.3,648.2 L887.1,651.3 L888.0,654.4 L888.9,657.5 L889.8,660.6 L890.7,663.7 L891.6,666.8 L892.5,669.8 L893.4,672.9 L894.3,676.0 L895.2,679.1 L896.1,682.2 L897.1,685.2 L898.0,688.3 L898.9,691.4 L899.9,694.5 L900.8,697.5 L901.8,700.6 L902.7,703.7 L903.7,706.7 L904.7,709.8 L905.6,712.8 L906.6,715.9 L907.6,719.0 L908.6,722.0 L909.6,725.1 L910.6,728.1 L911.6,731.2 L912.6,734.2 L913.7,737.3 L914.7,740.3 L915.8,743.3 L916.9,746.3 L918.0,749.4 L919.1,752.4 L920.2,755.4 L921.3,758.4 L922.5,761.4 L923.6,764.4 L924.7,767.4 L925.9,770.4 L927.0,773.4 L928.2,776.4 L929.4,779.4 L930.5,782.4 L931.7,785.4 L932.9,788.4 L934.1,791.4 L935.3,794.3 L936.5,797.3 L937.7,800.3 L938.9,803.3 L940.1,806.3 L941.4,809.2 L942.6,812.2 L943.9,815.1 L945.2,818.1 L946.5,821.0 L947.8,824.0 L949.1,826.9 L950.4,829.8 L951.7,832.8 L953.1,835.7 L954.4,838.6 L955.8,841.6 L957.1,844.5 L958.4,847.4 L959.8,850.3 L961.2,853.2 L962.5,856.2 L963.9,859.1 L965.3,862.0 L966.6,864.9 L968.0,867.8 L969.4,870.7 L970.8,873.6 L972.2,876.5 L973.5,879.4 L974.9,882.3 L976.3,885.2 L977.7,888.1 L979.1,891.0 L980.6,893.9 L982.0,896.8 L983.3,899.7 L984.7,902.6 L986.1,905.5 L987.5,908.4 L988.9,911.3 L990.3,914.2 L991.7,917.1 L993.1,920.0 L994.5,922.9 L995.9,925.8 L997.3,928.7 L998.8,931.6 L1000.2,934.5 L1001.6,937.4 L1002.9,940.3 L1004.3,943.2 L1005.7,946.1 L1007.1,949.0 L1008.5,951.8 L1009.9,954.7 L1011.3,957.6 L1012.8,960.5 L1014.2,963.4 L1015.6,966.3 L1017.0,969.2 L1018.4,972.1 L1019.9,975.0 L1021.3,977.8 L1022.7,980.7 L1024.2,983.6 L1025.6,986.5 L1027.0,989.3 L1028.5,992.2 L1029.9,995.1 L1031.4,997.9 L1032.8,1000.8 L1034.3,1003.7 L1035.8,1006.5 L1037.2,1009.4 L1038.7,1012.2 L1040.2,1015.1 L1041.7,1018.0 L1043.1,1020.8 L1044.6,1023.7 L1046.1,1026.5 L1047.6,1029.3 L1049.1,1032.2 L1050.7,1035.0 L1052.2,1037.8 L1053.7,1040.6 L1055.2,1043.5 L1056.8,1046.3 L1058.3,1049.1 L1059.9,1051.9 L1061.4,1054.7 L1063.0,1057.5 L1064.5,1060.3 L1066.1,1063.1 L1067.7,1066.0 L1069.2,1068.7 L1070.8,1071.5 L1072.4,1074.3 L1074.0,1077.1 L1075.6,1079.9 L1077.2,1082.7 L1078.8,1085.5 L1080.4,1088.3 L1082.0,1091.0 L1083.6,1093.8 L1085.2,1096.6 L1086.9,1099.3 L1088.5,1102.1 L1090.2,1104.8 L1091.9,1107.6 L1093.5,1110.3 L1095.2,1113.0 L1096.9,1115.8 L1098.6,1118.5 L1100.3,1121.2 L1101.9,1123.9 L1103.6,1126.7 L1105.3,1128.9 L1106.6,1131.2 L1107.8,1133.5 L1109.1,1135.8 L1110.3,1138.1 L1111.6,1140.4 L1112.8,1142.7 L1114.1,1145.0 L1115.3,1147.3 L1116.6,1149.7 L1117.8,1152.0 L1119.1,1154.3 L1120.3,1156.6 L1121.6,1159.0 L1122.8,1161.3 L1124.1,1163.6 L1125.4,1166.0 L1126.6,1168.3 L1127.9,1170.7 L1129.2,1173.0 L1130.4,1175.3 L1131.7,1177.7 L1133.0,1180.0 L1134.2,1182.4 L1135.5,1184.7 L1136.8,1187.1 L1138.1,1189.4 L1139.4,1191.7 L1140.7,1194.1 L1142.0,1196.4 L1143.3,1198.8 L1144.6,1201.1 L1145.9,1203.4 L1147.2,1205.8 L1148.6,1208.1 L1149.9,1210.4 L1151.2,1212.8 L1152.6,1215.1 L1153.9,1217.4 L1155.3,1219.7 L1156.6,1222.0 L1158.0,1224.3 L1159.4,1226.6 L1160.8,1228.9 L1162.1,1231.2 L1163.5,1233.5 L1164.9,1235.8 L1166.3,1238.1 L1167.7,1240.4 L1169.2,1242.6 L1170.6,1244.9 L1172.0,1247.2 L1173.5,1249.4 L1174.9,1251.6 L1176.4,1253.9 L1177.9,1256.1 L1179.3,1258.3 L1180.8,1260.6 L1182.3,1262.8 L1183.8,1265.0 L1185.3,1267.2 L1186.9,1269.3 L1188.4,1271.5 L1189.9,1273.7 L1191.5,1275.8 L1193.1,1278.0 L1194.6,1280.1 L1196.2,1282.2 L1197.8,1284.4 L1199.4,1286.5 L1201.1,1288.6 L1202.7,1290.7 L1204.3,1292.7 L1206.0,1294.8 L1207.7,1296.9 L1209.3,1298.9 L1211.0,1300.9 L1212.7,1302.9 L1214.4,1304.9 L1216.2,1306.9 L1217.9,1308.9 L1219.7,1310.9 L1221.4,1312.8 L1223.2,1314.8 L1225.0,1316.7 L1226.8,1318.6 L1228.7,1320.5 L1230.5,1322.4 L1232.3,1324.3 L1234.2,1326.1 L1236.1,1328.0 L1238.0,1329.8 L1239.9,1331.6 L1241.8,1333.4 L1243.8,1335.2 L1245.7,1337.0 L1247.7,1338.7 L1249.7,1340.4 L1251.7,1342.1 L1253.7,1343.8 L1255.8,1345.5 L1257.8,1347.2 L1259.9,1348.8 L1262.0,1350.4 L1264.1,1352.1 L1266.2,1353.7 L1268.3,1355.2 L1270.5,1356.8 L1272.6,1358.3 L1274.8,1359.9 L1277.0,1361.4 L1279.2,1362.9 L1281.4,1364.4 L1283.6,1365.8 L1285.9,1367.3 L1288.1,1368.7 L1290.4,1370.2 L1292.6,1371.6 L1294.9,1373.0 L1297.2,1374.4 L1299.5,1375.8 L1301.8,1377.2 L1304.1,1378.5 L1306.4,1379.9 L1308.8,1381.3 L1311.1,1382.6 L1313.4,1383.9 L1315.8,1385.2 L1318.1,1386.6 L1320.5,1387.9 L1322.8,1389.2 L1325.2,1390.4 L1327.5,1391.7 L1329.9,1393.0 L1332.3,1394.3 L1334.6,1395.5 L1337.0,1396.8 L1339.4,1398.1 L1341.8,1399.3 L1344.1,1400.6 L1346.5,1401.8 L1348.9,1403.0 L1351.2,1404.3 L1353.6,1405.5 L1356.0,1406.7 L1358.3,1408.0 L1360.7,1409.2 L1363.1,1410.4 L1365.4,1411.6 L1367.8,1412.9 L1370.1,1414.1 L1372.5,1415.3 L1374.8,1416.5 L1377.2,1417.7 L1379.5,1418.9 L1381.9,1420.2 L1384.2,1421.4 L1386.6,1422.6 L1388.9,1423.8 L1391.2,1425.0 L1393.6,1426.2 L1395.9,1427.5 L1398.3,1428.7 L1400.6,1429.9 L1402.9,1431.1 L1405.3,1432.3 L1407.6,1433.5 L1410.0,1434.8 L1412.3,1436.0 L1414.6,1437.2 L1417.0,1438.4 L1419.3,1439.7 L1421.7,1440.9 L1424.0,1442.1 L1426.3,1443.4 L1428.7,1444.6 L1431.0,1445.8 L1433.3,1447.1 L1435.7,1448.3 L1438.0,1449.6 L1440.4,1450.8 L1442.7,1452.1 L1445.1,1453.4 L1447.4,1454.6 L1449.8,1455.9 L1452.1,1457.2 L1454.5,1458.5 L1456.8,1459.7 L1459.2,1461.0 L1461.5,1462.3 L1463.9,1463.6 L1466.2,1464.9 L1468.6,1466.2 L1471.0,1467.5 L1473.3,1468.7 L1475.7,1470.0 L1478.1,1471.3 L1480.5,1472.6 L1482.8,1473.8 L1485.2,1475.1 L1487.6,1476.3 L1490.0,1477.6 L1492.4,1478.8 L1494.8,1480.0 L1497.2,1481.3 L1499.6,1482.5 L1502.0,1483.7 L1504.4,1484.8 L1506.8,1486.0 L1509.2,1487.2 L1511.7,1488.3 L1514.1,1489.4 L1516.5,1490.5 L1519.0,1491.6 L1521.4,1492.7 L1523.9,1493.7 L1526.3,1494.8 L1528.8,1495.8 L1531.2,1496.8 L1533.7,1497.8 L1536.2,1498.7 L1538.7,1499.6 L1541.2,1500.6 L1543.7,1501.4 L1546.2,1502.3 L1548.7,1503.1 L1551.2,1503.9 L1553.7,1504.7 L1556.2,1505.4 L1558.8,1506.1 L1561.3,1506.8 L1563.9,1507.5 L1566.4,1508.1 L1569.0,1508.8 L1571.5,1509.4 L1574.1,1509.9 L1576.7,1510.5 L1579.3,1511.0 L1581.9,1511.5 L1584.4,1512.0 L1587.0,1512.4 L1589.6,1512.9 L1592.3,1513.3 L1594.9,1513.7 L1597.5,1514.1 L1600.1,1514.4 L1602.7,1514.8 L1605.3,1515.1 L1608.0,1515.4 L1610.6,1515.7 L1613.2,1516.0 L1615.9,1516.3 L1618.5,1516.6 L1621.2,1516.8 L1623.8,1517.1 L1626.5,1517.3 L1629.1,1517.5 L1631.8,1517.7 L1634.4,1517.9 L1637.1,1518.1 L1639.7,1518.3 L1642.4,1518.4 L1645.0,1518.6 L1647.7,1518.8 L1650.4,1518.9 L1653.0,1519.1 L1655.7,1519.2 L1658.3,1519.3 L1661.0,1519.5 L1663.7,1519.6 L1666.3,1519.7 L1669.0,1519.9 L1671.7,1520.0 L1674.3,1520.1 L1677.0,1520.2 L1679.6,1520.4 L1682.3,1520.5 L1685.0,1520.6 L1687.6,1520.7 L1690.3,1520.8 L1693.0,1520.9 L1695.6,1521.0 L1698.3,1521.1 L1700.9,1521.2 L1703.6,1521.3 L1706.3,1521.4 L1708.9,1521.5 L1711.6,1521.6 L1714.3,1521.7 L1716.9,1521.8 L1719.6,1521.8 L1722.2,1521.9 L1724.9,1522.0 L1727.6,1522.1 L1730.2,1522.1 L1732.9,1522.2 L1735.6,1522.3 L1738.2,1522.3 L1740.9,1522.4 L1743.5,1522.5 L1746.2,1522.5 L1748.9,1522.6 L1751.5,1522.7 L1754.2,1522.7 L1756.8,1522.8 L1759.5,1522.8 L1762.2,1522.9 L1764.8,1522.9 L1767.5,1523.0 L1770.2,1523.0 L1772.8,1523.0 L1775.5,1523.1 L1778.1,1523.1 L1780.8,1523.2 L1783.5,1523.2 L1786.1,1523.2 L1788.8,1523.3 L1791.4,1523.3 L1794.1,1523.3 L1796.8,1523.4 L1799.4,1523.4 L1802.1,1523.4 L1804.7,1523.4 L1807.4,1523.4 L1810.1,1523.5 L1812.7,1523.5 L1815.4,1523.5 L1818.1,1523.5 L1820.7,1523.5 L1823.4,1523.5 L1826.0,1523.6 L1828.7,1523.6 L1831.4,1523.6 L1834.0,1523.6 L1836.7,1523.6 L1839.3,1523.6 L1842.0,1523.6 L1844.7,1523.6 L1847.3,1523.6 L1850.0,1523.6 L1852.6,1523.6 L1855.3,1523.6 L1858.0,1523.6 L1860.6,1523.6 L1863.3,1523.6 L1865.9,1523.6 L1868.6,1523.6 L1871.3,1523.5 L1873.9,1523.5 L1876.6,1523.5 L1879.2,1523.5 L1881.9,1523.5 L1884.6,1523.5 L1887.2,1523.5 L1889.9,1523.5 L1892.5,1523.4 L1895.2,1523.4 L1897.9,1523.4 L1900.5,1523.4 L1903.2,1523.4 L1905.9,1523.3 L1908.5,1523.3 L1911.2,1523.3 L1913.8,1523.3 L1916.5,1523.3 L1919.2,1523.2 L1921.8,1523.2 L1924.5,1523.2 L1927.1,1523.2 L1929.8,1523.1 L1932.5,1523.1 L1935.1,1523.1 L1937.8,1523.0 L1940.4,1523.0 L1943.1,1523.0 L1945.8,1523.0 L1948.4,1522.9 L1951.1,1522.9 L1953.7,1522.9 L1956.4,1522.8 L1959.1,1522.8 L1961.7,1522.8 L1964.4,1522.7 L1967.0,1522.7 L1969.7,1522.7 L1972.4,1522.6 L1975.0,1522.6 L1977.7,1522.6 L1980.3,1522.5 L1983.0,1522.5 L1985.7,1522.5 L1988.3,1522.4 L1991.0,1522.4 L1993.6,1522.4 L1996.3,1522.3 L1999.0,1522.3 L2001.6,1522.3 L2004.3,1522.2 L2006.9,1522.2 L2009.6,1522.2 L2012.3,1522.1 L2014.9,1522.1 L2017.6,1522.1 L2020.2,1522.0 L2022.9,1522.0 L2025.6,1522.0 L2028.2,1521.9 L2030.9,1521.9 L2033.5,1521.9 L2036.2,1521.8 L2038.9,1521.8 L2041.5,1521.8 L2044.2,1521.7 L2046.8,1521.7 L2049.5,1521.7 L2052.2,1521.6 L2054.8,1521.6 L2057.5,1521.6 L2060.1,1521.6 L2062.8,1521.5 L2065.5,1521.5 L2068.1,1521.5 L2070.8,1521.4 L2073.4,1521.4 L2076.1,1521.4 L2078.8,1521.4 L2081.4,1521.3 L2084.1,1521.3 L2086.7,1521.3 L2089.4,1521.3 L2092.1,1521.2 L2094.7,1521.2 L2097.4,1521.2 L2100.0,1521.2 L2102.7,1521.2 L2105.4,1521.1 L2108.0,1521.1 L2110.7,1521.1 L2113.3,1521.1 L2116.0,1521.1 L2118.7,1521.1 L2121.3,1521.1 L2124.0,1521.0 L2126.6,1521.0 L2129.3,1521.0 L2132.0,1521.0 L2134.6,1521.0 L2137.3,1521.0 L2139.9,1521.0 L2142.6,1521.0 L2145.3,1521.0 L2147.9,1521.0 L2150.6,1521.0 L2153.3,1521.0 L2155.9,1521.0 L2158.6,1521.0 L2161.2,1521.0 L2163.9,1521.0 L2166.6,1521.0 L2169.2,1521.0 L2171.9,1521.0 L2174.5,1521.0 L2177.2,1521.0 L2179.9,1521.0 L2182.5,1521.1 L2185.2,1521.1 L2187.8,1521.1 L2190.5,1521.1 L2193.2,1521.1 L2195.8,1521.1 L2198.5,1521.2 L2201.1,1521.2 L2203.8,1521.2 L2206.5,1521.2 L2209.1,1521.3 L2211.8,1521.3 L2214.5,1521.3 L2217.1,1521.4 L2219.8,1521.4 L2222.4,1521.4 L2225.1,1521.5 L2227.8,1521.5 L2230.4,1521.6 L2233.1,1521.6 L2235.7,1521.7 L2238.4,1521.7 L2241.1,1521.8 L2243.7,1521.8 L2246.4,1521.9 L2249.0,1521.9 L2251.7,1522.0 L2254.4,1522.0 L2257.0,1522.1 L2259.7,1522.2 L2262.4,1522.2 L2265.0,1522.3 L2267.7,1522.4 L2270.3,1522.4 L2273.0,1522.5" fill="none" stroke="#ff0000" stroke-width="12.1" stroke-linejoin="round" stroke-dasharray="37 9.25 18.5 9.25"/>
<rect x="1164" y="204" width="1058" height="166.8" fill="#fff" stroke="#262626" stroke-width="3"/>
<line x1="1181.7" y1="250" x2="1366.9" y2="250" stroke="#0000ff" stroke-width="12.1"/>
<line x1="1181.7" y1="325.1" x2="1366.9" y2="325.1" stroke="#ff0000" stroke-width="12.1" stroke-dasharray="37 9.25 18.5 9.25"/>
<text class="lg" transform="translate(1381.40,272.00) scale(0.9780,1.0150)" text-anchor="start">Target crystal size distribution</text>
<text class="lg" transform="translate(1381.40,347.80) scale(0.9780,1.0150)" text-anchor="start">Estimated crystal size distribution</text>
<text class="tk" transform="translate(258.00,1547.20) scale(0.9840,1.0300)" text-anchor="end">0</text>
<text class="tk" transform="translate(258.00,1351.20) scale(0.9840,1.0300)" text-anchor="end">0.5</text>
<text class="tk" transform="translate(258.00,1156.20) scale(0.9840,1.0300)" text-anchor="end">1</text>
<text class="tk" transform="translate(258.00,960.20) scale(0.9840,1.0300)" text-anchor="end">1.5</text>
<text class="tk" transform="translate(258.00,765.20) scale(0.9840,1.0300)" text-anchor="end">2</text>
<text class="tk" transform="translate(258.00,569.20) scale(0.9840,1.0300)" text-anchor="end">2.5</text>
<text class="tk" transform="translate(258.00,373.20) scale(0.9840,1.0300)" text-anchor="end">3</text>
<text class="tk" transform="translate(258.00,178.20) scale(0.9840,1.0300)" text-anchor="end">3.5</text>
<text class="tk" transform="translate(283.90,1612.00) scale(0.9840,1.0300)" text-anchor="middle">0</text>
<text class="tk" transform="translate(945.80,1612.00) scale(0.9840,1.0300)" text-anchor="middle">500</text>
<text class="tk" transform="translate(1610.30,1612.00) scale(0.9840,1.0300)" text-anchor="middle">1000</text>
<text class="tk" transform="translate(2272.30,1612.00) scale(0.9840,1.0300)" text-anchor="middle">1500</text>
<text class="tk" transform="translate(287.20,150.90) scale(1.0000,1.0000)" text-anchor="start" style="font-family:'Liberation Serif',serif;font-size:79.5px;stroke:#fff;stroke-width:1.1px">×</text>
<text class="tk" transform="translate(336.20,139.00) scale(0.9840,1.0300)" text-anchor="start">10</text>
<text class="tk" transform="translate(404.50,112.00) scale(0.9870,1.0000)" text-anchor="start" style="font-size:50px">-3</text>
<text class="lb" transform="translate(1279.00,1702.00) scale(0.9840,1.0180)" text-anchor="middle">Crystal size(um)</text>
<text class="lb" transform="translate(136.00,839.50) rotate(-90) scale(0.9840,1.0180)" text-anchor="middle">Probability Density</text>
</svg></body></html>
